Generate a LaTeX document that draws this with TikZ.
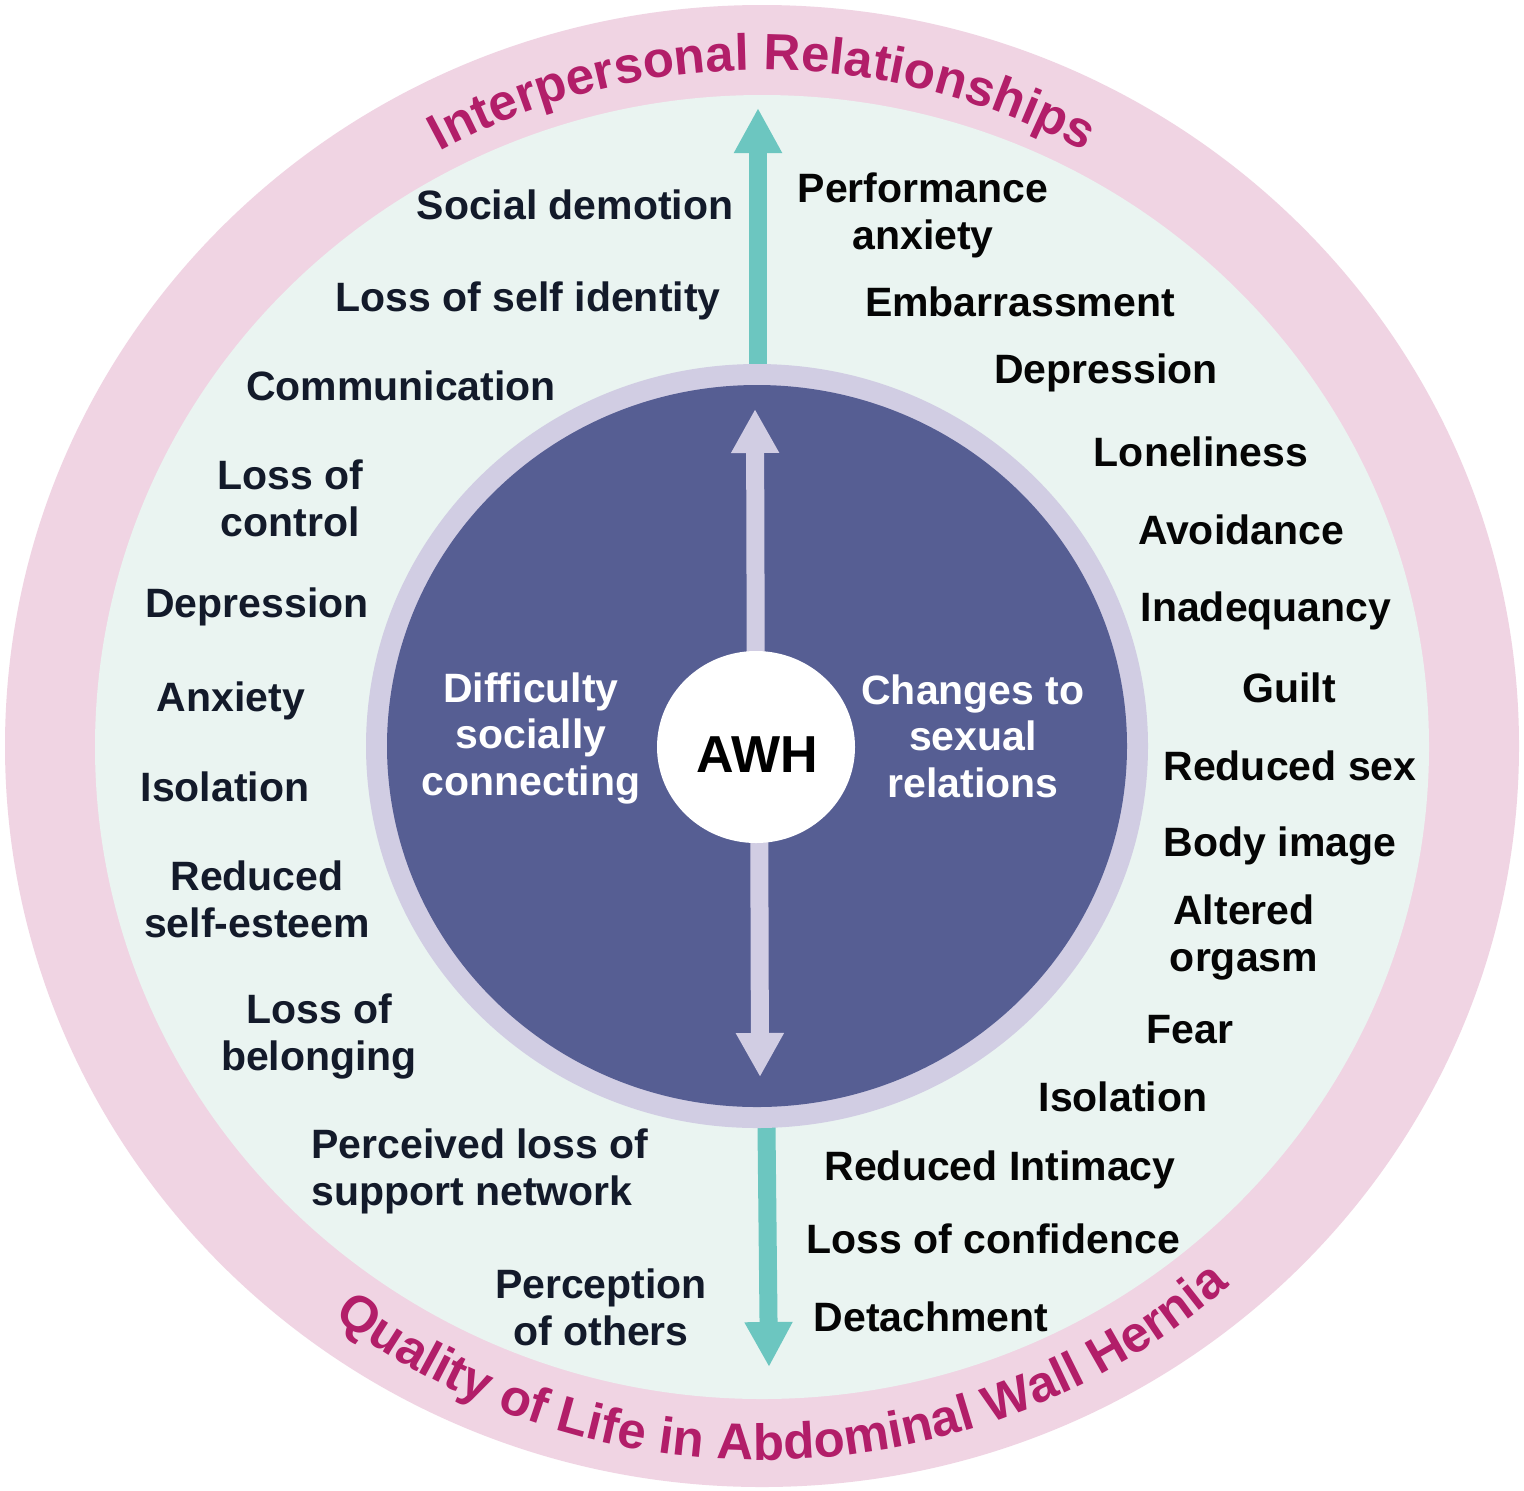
\documentclass[tikz,border=0pt]{standalone}
\usepackage{fontspec}
\setmainfont{Liberation Sans}
\usetikzlibrary{arrows.meta,decorations.text}
\definecolor{pinkring}{HTML}{F0D4E3}
\definecolor{lightbg}{HTML}{EAF4F1}
\definecolor{lavring}{HTML}{D1CDE3}
\definecolor{darkpur}{HTML}{565E93}
\definecolor{tealarr}{HTML}{6CC6C0}
\definecolor{arcmag}{HTML}{B21E69}
\definecolor{leftcol}{HTML}{131A2A}
\definecolor{rightcol}{HTML}{050505}
\begin{document}
\begin{tikzpicture}[x=0.5pt,y=-0.5pt,
  lbl/.style={font=\fontsize{20.5}{23.25}\selectfont\bfseries, inner sep=0pt, align=center, anchor=base},
  lleft/.style={lbl, text=leftcol},
  lright/.style={lbl, text=rightcol},
  inlbl/.style={lbl, text=white},
  tealarrow/.style={draw=tealarr, line width=9pt, -{Triangle[width=22.5pt,length=22.5pt]}},
  lavarrow/.style={draw=lavring, line width=9pt, -{Triangle[width=22.5pt,length=22pt]}},
  arctext/.style={decorate, decoration={text along path, text align=center, text color=arcmag,
     text={|\fontsize{25.5}{30}\selectfont\bfseries|#1}}}
]
\useasboundingbox (0,0) rectangle (1524,1490);
\fill[white] (0,0) rectangle (1524,1490);
% rings
\fill[pinkring] (762,746) ellipse [x radius=757, y radius=741];
\fill[lightbg] (762,747) ellipse [x radius=667, y radius=652];
% arc titles
\path[arctext={Interpersonal Relationships}] ([shift={(762,746)}]-130:676) arc[start angle=-130, end angle=-50, radius=676];
\path[arctext={Quality of Life in Abdominal Wall Hernia}] ([shift={(762,746)}]133:714) arc[start angle=133, end angle=43, radius=714];
% teal arrows
\coordinate (tuS) at (758,420);
\coordinate (tuE) at (758,108);
\coordinate (tdS) at (766,1080);
\coordinate (tdE) at (769,1367);
\draw[tealarrow] (tuS) -- (tuE);
\draw[tealarrow] (tdS) -- (tdE);
% central disc
\fill[lavring] (757,746) ellipse [x radius=391, y radius=382];
\fill[darkpur] (757,746) ellipse [x radius=370, y radius=361];
\coordinate (luS) at (756,747);
\coordinate (luE) at (755,409);
\coordinate (ldS) at (759,747);
\coordinate (ldE) at (760,1077);
\draw[lavarrow] (luS) -- (luE);
\draw[lavarrow] (ldS) -- (ldE);
\fill[white] (756,747) ellipse [x radius=99, y radius=96];
\node[font=\fontsize{26}{30}\selectfont\bfseries, inner sep=0pt, anchor=base] (awh) at (757,772) {AWH};
% inner labels (anchor base = last line)
\node[inlbl] (inL) at (531,795) {Difficulty\\socially\\connecting};
\node[inlbl] (inR) at (973,797) {Changes to\\sexual\\relations};
% left labels
\node[lleft] (l1) at (575,219) {Social demotion};
\node[lleft] (l2) at (528,311) {Loss of self identity};
\node[lleft] (l3) at (401,400) {Communication};
\node[lleft] (l4) at (290,536) {Loss of\\control};
\node[lleft] (l5) at (257,617) {Depression};
\node[lleft] (l6) at (231,711) {Anxiety};
\node[lleft] (l7) at (225,801) {Isolation};
\node[lleft] (l8) at (257,937) {Reduced\\self-esteem};
\node[lleft] (l9) at (319,1070) {Loss of\\belonging};
\node[lleft, anchor=base west, align=left] (l10) at (311,1205) {Perceived loss of\\support network};
\node[lleft] (l11) at (601,1345) {Perception\\of others};
% right labels
\node[lright] (r1) at (923,249) {Performance\\anxiety};
\node[lright] (r2) at (1020,316) {Embarrassment};
\node[lright] (r3) at (1106,383) {Depression};
\node[lright] (r4) at (1201,466) {Loneliness};
\node[lright] (r5) at (1241,544) {Avoidance};
\node[lright] (r6) at (1266,621) {Inadequancy};
\node[lright] (r7) at (1289,702) {Guilt};
\node[lright] (r8) at (1290,780) {Reduced sex};
\node[lright] (r9) at (1280,856) {Body image};
\node[lright] (r10) at (1244,971) {Altered\\orgasm};
\node[lright] (r11) at (1190,1043) {Fear};
\node[lright] (r12) at (1123,1111) {Isolation};
\node[lright] (r13) at (1000,1180) {Reduced Intimacy};
\node[lright] (r14) at (993,1253) {Loss of confidence};
\node[lright] (r15) at (931,1331) {Detachment};
\end{tikzpicture}
\end{document}
